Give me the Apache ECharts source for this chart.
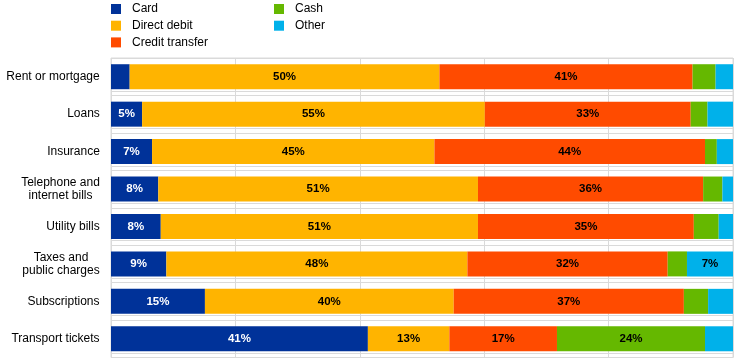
<!DOCTYPE html>
<html><head><meta charset="utf-8">
<script src="https://cdn.jsdelivr.net/npm/echarts@6/dist/echarts.min.js"></script>
<style>html,body{margin:0;padding:0;background:#fff}#c{width:744px;height:361px}</style>
</head><body><div id="c"></div><script>
const categories = ['Rent or mortgage','Loans','Insurance','Telephone and\ninternet bills','Utility bills','Taxes and\npublic charges','Subscriptions','Transport tickets'];
const card          = [3.0, 5.0, 6.6, 7.6, 8.0, 8.9, 15.1, 41.3];
const directDebit   = [49.8, 55.1, 45.4, 51.4, 51.0, 48.4, 40.0, 13.1];
const creditTransfer= [40.7, 33.1, 43.5, 36.2, 34.7, 32.2, 37.0, 17.3];
const cash          = [3.7, 2.7, 1.9, 3.1, 4.0, 3.1, 3.9, 23.8];
const other         = [2.8, 4.1, 2.6, 1.7, 2.3, 7.4, 4.0, 4.5];
const seriesNames = ['Card','Direct debit','Credit transfer','Cash','Other'];
const seriesData = [card, directDebit, creditTransfer, cash, other];
const colors = ['#003299','#FFB400','#FF4B00','#65B800','#00B1EA'];
const labelColors = ['#fff','#000','#000','#000','#000'];
const xTicks = [0,20,40,60,80,100];

const FONT = '"Liberation Sans", Arial, sans-serif';
const ctx = document.createElement('canvas').getContext('2d');
ctx.font = '12px ' + FONT;
const rich = {};
categories.forEach((c,i)=>{
  const lines = c.split('\n');
  const w = Math.max(...lines.map(l=>ctx.measureText(l).width));
  rich['l'+i] = {width: Math.ceil(w), align:'center', fontSize:12, fontFamily:FONT, color:'#000', lineHeight:13};
});

const GRID_TOP = 58, GRID_H = 299.5, BAND = GRID_H / categories.length;
const gridColor = '#dadada';

const chart = echarts.init(document.getElementById('c'), null, {renderer:'canvas'});
chart.setOption({
  animation:false,
  backgroundColor:'#fff',
  textStyle:{fontFamily:FONT},
  legend:[
    {data:seriesNames.slice(0,3), orient:'vertical', left:111, top:3, padding:0, itemWidth:10, itemHeight:10, itemGap:4.7, icon:'rect',
     textStyle:{fontSize:12, color:'#000', fontFamily:FONT, lineHeight:12, padding:[0,0,0,6]}},
    {data:seriesNames.slice(3), orient:'vertical', left:274, top:3, padding:0, itemWidth:10, itemHeight:10, itemGap:4.7, icon:'rect',
     textStyle:{fontSize:12, color:'#000', fontFamily:FONT, lineHeight:12, padding:[0,0,0,6]}}
  ],
  grid:[
    {left:111, right:11, top:GRID_TOP, height:GRID_H, show:true, borderColor:gridColor, borderWidth:1, containLabel:false},
    {left:111, right:11, top:GRID_TOP + BAND - 4.5, height:BAND*(categories.length-1), show:false, containLabel:false}
  ],
  xAxis:[
    {gridIndex:0, type:'value', min:xTicks[0], max:xTicks[xTicks.length-1], interval:xTicks[1]-xTicks[0],
     axisLabel:{show:false}, axisLine:{show:false}, axisTick:{show:false},
     splitLine:{show:true, lineStyle:{color:gridColor, width:1}}},
    {gridIndex:1, type:'value', min:0, max:100, show:false, splitLine:{show:false}}
  ],
  yAxis:[
    {gridIndex:0, type:'category', data:categories, inverse:true,
     axisLine:{show:false}, axisTick:{show:false},
     splitLine:{show:true, lineStyle:{color:gridColor, width:1}},
     axisLabel:{margin:11, fontSize:12, color:'#000', fontFamily:FONT, rich:rich,
       formatter:(v,i)=>v.split('\n').map(l=>'{l'+i+'|'+l+'}').join('\n')}},
    {gridIndex:1, type:'category', data:categories.slice(1), inverse:true,
     axisLine:{show:false}, axisTick:{show:false}, axisLabel:{show:false},
     splitLine:{show:true, lineStyle:{color:gridColor, width:1}}}
  ],
  series: seriesNames.map((n,k)=>({
    name:n, type:'bar', stack:'total', xAxisIndex:0, yAxisIndex:0,
    data:seriesData[k], barWidth:25,
    itemStyle:{color:colors[k]},
    label:{show:true, position:'inside', color:labelColors[k], fontSize:11.5, fontWeight:'bold', fontFamily:FONT,
      formatter:p=> p.value>=5 ? Math.round(p.value)+'%' : ''}
  }))
});
</script></body></html>
